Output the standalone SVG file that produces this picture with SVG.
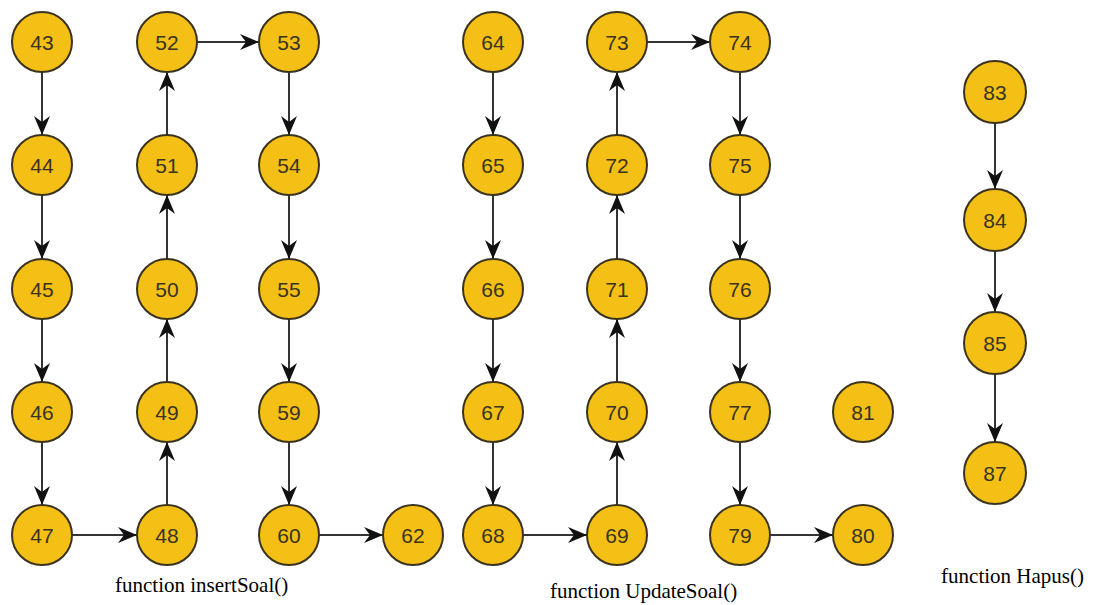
<svg xmlns="http://www.w3.org/2000/svg" width="1093" height="605" viewBox="0 0 1093 605">
<style>
.n circle{fill:#F4C016;stroke:#3a3320;stroke-width:2}
.n text{font-family:"Liberation Sans",Arial,sans-serif;font-size:21px;fill:#3a3320;text-anchor:middle;dominant-baseline:central}
.e line{stroke:#333;stroke-width:2}
.cap{font-family:"Liberation Serif","Times New Roman",serif;font-size:21px;fill:#000}
</style>
<defs>
<marker id="ah" markerUnits="userSpaceOnUse" markerWidth="20" markerHeight="16" refX="19" refY="8" orient="auto" viewBox="0 0 20 16">
<path d="M0,0 L19,8 L0,16 L6,8 z" fill="#111"/>
</marker>
</defs>
<rect width="1093" height="605" fill="#fff"/>
<g class="e">
<line x1="42" y1="72" x2="42" y2="135" marker-end="url(#ah)"/>
<line x1="42" y1="195" x2="42" y2="259" marker-end="url(#ah)"/>
<line x1="42" y1="319" x2="42" y2="382" marker-end="url(#ah)"/>
<line x1="42" y1="442" x2="42" y2="505" marker-end="url(#ah)"/>
<line x1="72" y1="535" x2="137" y2="535" marker-end="url(#ah)"/>
<line x1="167" y1="505" x2="167" y2="442" marker-end="url(#ah)"/>
<line x1="167" y1="382" x2="167" y2="319" marker-end="url(#ah)"/>
<line x1="167" y1="259" x2="167" y2="195" marker-end="url(#ah)"/>
<line x1="167" y1="135" x2="167" y2="72" marker-end="url(#ah)"/>
<line x1="197" y1="42" x2="259" y2="42" marker-end="url(#ah)"/>
<line x1="289" y1="72" x2="289" y2="135" marker-end="url(#ah)"/>
<line x1="289" y1="195" x2="289" y2="259" marker-end="url(#ah)"/>
<line x1="289" y1="319" x2="289" y2="382" marker-end="url(#ah)"/>
<line x1="289" y1="442" x2="289" y2="505" marker-end="url(#ah)"/>
<line x1="319" y1="535" x2="383" y2="535" marker-end="url(#ah)"/>
<line x1="493" y1="72" x2="493" y2="135" marker-end="url(#ah)"/>
<line x1="493" y1="195" x2="493" y2="259" marker-end="url(#ah)"/>
<line x1="493" y1="319" x2="493" y2="382" marker-end="url(#ah)"/>
<line x1="493" y1="442" x2="493" y2="505" marker-end="url(#ah)"/>
<line x1="523" y1="535" x2="587" y2="535" marker-end="url(#ah)"/>
<line x1="617" y1="505" x2="617" y2="442" marker-end="url(#ah)"/>
<line x1="617" y1="382" x2="617" y2="319" marker-end="url(#ah)"/>
<line x1="617" y1="259" x2="617" y2="195" marker-end="url(#ah)"/>
<line x1="617" y1="135" x2="617" y2="72" marker-end="url(#ah)"/>
<line x1="647" y1="42" x2="710" y2="42" marker-end="url(#ah)"/>
<line x1="740" y1="72" x2="740" y2="135" marker-end="url(#ah)"/>
<line x1="740" y1="195" x2="740" y2="259" marker-end="url(#ah)"/>
<line x1="740" y1="319" x2="740" y2="382" marker-end="url(#ah)"/>
<line x1="740" y1="442" x2="740" y2="505" marker-end="url(#ah)"/>
<line x1="770" y1="535" x2="833" y2="535" marker-end="url(#ah)"/>
<line x1="995" y1="123" x2="995" y2="189" marker-end="url(#ah)"/>
<line x1="995" y1="251" x2="995" y2="312" marker-end="url(#ah)"/>
<line x1="995" y1="374" x2="995" y2="442" marker-end="url(#ah)"/>
</g>
<g id="n43" class="n"><circle cx="42" cy="42" r="30"/><text x="42" y="42">43</text></g>
<g id="n44" class="n"><circle cx="42" cy="165" r="30"/><text x="42" y="165">44</text></g>
<g id="n45" class="n"><circle cx="42" cy="289" r="30"/><text x="42" y="289">45</text></g>
<g id="n46" class="n"><circle cx="42" cy="412" r="30"/><text x="42" y="412">46</text></g>
<g id="n47" class="n"><circle cx="42" cy="535" r="30"/><text x="42" y="535">47</text></g>
<g id="n48" class="n"><circle cx="167" cy="535" r="30"/><text x="167" y="535">48</text></g>
<g id="n49" class="n"><circle cx="167" cy="412" r="30"/><text x="167" y="412">49</text></g>
<g id="n50" class="n"><circle cx="167" cy="289" r="30"/><text x="167" y="289">50</text></g>
<g id="n51" class="n"><circle cx="167" cy="165" r="30"/><text x="167" y="165">51</text></g>
<g id="n52" class="n"><circle cx="167" cy="42" r="30"/><text x="167" y="42">52</text></g>
<g id="n53" class="n"><circle cx="289" cy="42" r="30"/><text x="289" y="42">53</text></g>
<g id="n54" class="n"><circle cx="289" cy="165" r="30"/><text x="289" y="165">54</text></g>
<g id="n55" class="n"><circle cx="289" cy="289" r="30"/><text x="289" y="289">55</text></g>
<g id="n59" class="n"><circle cx="289" cy="412" r="30"/><text x="289" y="412">59</text></g>
<g id="n60" class="n"><circle cx="289" cy="535" r="30"/><text x="289" y="535">60</text></g>
<g id="n62" class="n"><circle cx="413" cy="535" r="30"/><text x="413" y="535">62</text></g>
<g id="n64" class="n"><circle cx="493" cy="42" r="30"/><text x="493" y="42">64</text></g>
<g id="n65" class="n"><circle cx="493" cy="165" r="30"/><text x="493" y="165">65</text></g>
<g id="n66" class="n"><circle cx="493" cy="289" r="30"/><text x="493" y="289">66</text></g>
<g id="n67" class="n"><circle cx="493" cy="412" r="30"/><text x="493" y="412">67</text></g>
<g id="n68" class="n"><circle cx="493" cy="535" r="30"/><text x="493" y="535">68</text></g>
<g id="n69" class="n"><circle cx="617" cy="535" r="30"/><text x="617" y="535">69</text></g>
<g id="n70" class="n"><circle cx="617" cy="412" r="30"/><text x="617" y="412">70</text></g>
<g id="n71" class="n"><circle cx="617" cy="289" r="30"/><text x="617" y="289">71</text></g>
<g id="n72" class="n"><circle cx="617" cy="165" r="30"/><text x="617" y="165">72</text></g>
<g id="n73" class="n"><circle cx="617" cy="42" r="30"/><text x="617" y="42">73</text></g>
<g id="n74" class="n"><circle cx="740" cy="42" r="30"/><text x="740" y="42">74</text></g>
<g id="n75" class="n"><circle cx="740" cy="165" r="30"/><text x="740" y="165">75</text></g>
<g id="n76" class="n"><circle cx="740" cy="289" r="30"/><text x="740" y="289">76</text></g>
<g id="n77" class="n"><circle cx="740" cy="412" r="30"/><text x="740" y="412">77</text></g>
<g id="n79" class="n"><circle cx="740" cy="535" r="30"/><text x="740" y="535">79</text></g>
<g id="n80" class="n"><circle cx="863" cy="535" r="30"/><text x="863" y="535">80</text></g>
<g id="n81" class="n"><circle cx="863" cy="412" r="30"/><text x="863" y="412">81</text></g>
<g id="n83" class="n"><circle cx="995" cy="92" r="31"/><text x="995" y="92">83</text></g>
<g id="n84" class="n"><circle cx="995" cy="220" r="31"/><text x="995" y="220">84</text></g>
<g id="n85" class="n"><circle cx="995" cy="343" r="31"/><text x="995" y="343">85</text></g>
<g id="n87" class="n"><circle cx="995" cy="473" r="31"/><text x="995" y="473">87</text></g>
<text class="cap" x="115" y="592">function insertSoal()</text>
<text class="cap" x="550" y="598">function UpdateSoal()</text>
<text class="cap" x="1084" y="583" text-anchor="end">function Hapus()</text>
</svg>
